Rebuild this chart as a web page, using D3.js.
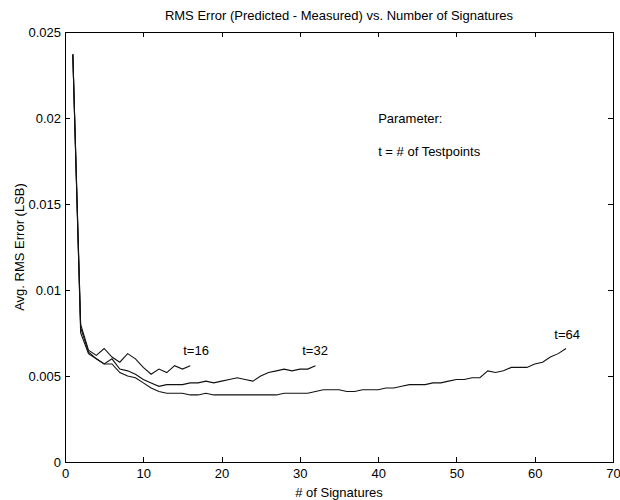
<!DOCTYPE html>
<html>
<head>
<meta charset="utf-8">
<script src="https://cdn.jsdelivr.net/npm/d3@7"></script>
<style>
  body { margin: 0; background: #fff; }
  svg text { font-family: "Liberation Sans", Arial, sans-serif; fill: #000; }
  .axis path, .axis line { stroke: #000; shape-rendering: crispEdges; }
</style>
</head>
<body>
<div id="chart"></div>
<script>
// values (avg RMS error, LSB) for 1..N signatures
var t16 = [0.0237, 0.0080, 0.0065, 0.0062, 0.0066, 0.0061, 0.0058, 0.0063, 0.0060, 0.0055,
           0.0051, 0.0054, 0.0052, 0.0056, 0.0054, 0.0056];
var t32 = [0.0237, 0.0078, 0.0064, 0.0060, 0.0057, 0.0060, 0.0054, 0.0053, 0.0051, 0.0048,
           0.0046, 0.0044, 0.0045, 0.0045, 0.0045, 0.0046, 0.0046, 0.0047, 0.0046, 0.0047,
           0.0048, 0.0049, 0.0048, 0.0047, 0.0050, 0.0052, 0.0053, 0.0054, 0.0053, 0.0054,
           0.0054, 0.0056];
var t64 = [0.0237, 0.0075, 0.0063, 0.0060, 0.0057, 0.0057, 0.0052, 0.0050, 0.0049, 0.0046,
           0.0043, 0.0041, 0.0040, 0.0040, 0.0040, 0.0039, 0.0039, 0.0040, 0.0039, 0.0039,
           0.0039, 0.0039, 0.0039, 0.0039, 0.0039, 0.0039, 0.0039, 0.0040, 0.0040, 0.0040,
           0.0040, 0.0041, 0.0042, 0.0042, 0.0042, 0.0041, 0.0041, 0.0042, 0.0042, 0.0042,
           0.0043, 0.0043, 0.0044, 0.0045, 0.0045, 0.0045, 0.0046, 0.0046, 0.0047, 0.0048,
           0.0048, 0.0049, 0.0049, 0.0053, 0.0052, 0.0053, 0.0055, 0.0055, 0.0055, 0.0057,
           0.0058, 0.0061, 0.0063, 0.0066];
var seriesNames = ["t=16", "t=32", "t=64"];
var xTicks = [0, 10, 20, 30, 40, 50, 60, 70];
var yTicks = [0, 0.005, 0.01, 0.015, 0.02, 0.025];
var yTickLabels = ["0", "0.005", "0.01", "0.015", "0.02", "0.025"];

var svg = d3.select("#chart").append("svg").attr("width", 620).attr("height", 500),
    margin = {top: 32, right: 7, bottom: 38, left: 65},
    width = 620 - margin.left - margin.right,
    height = 500 - margin.top - margin.bottom,
    g = svg.append("g").attr("transform", "translate(" + margin.left + "," + margin.top + ")");

var x = d3.scaleLinear().domain([0, 70]).range([0, width]);
var y = d3.scaleLinear().domain([0, 0.025]).range([height, 0]);

// axes, matlab style: inward ticks on all four sides
g.append("g").attr("class", "axis")
    .attr("transform", "translate(0," + height + ")")
    .call(d3.axisBottom(x).tickValues(xTicks).tickSizeInner(-5).tickSizeOuter(0).tickPadding(7))
    .call(function(a) { a.selectAll("text").attr("font-size", 13).attr("font-family", null); });

g.append("g").attr("class", "axis")
    .call(d3.axisLeft(y).tickValues(yTicks).tickSizeInner(-5).tickSizeOuter(0).tickPadding(4)
        .tickFormat(function(d, i) { return yTickLabels[i]; }))
    .call(function(a) { a.selectAll("text").attr("font-size", 13).attr("font-family", null); });

g.append("g").attr("class", "axis")
    .call(d3.axisTop(x).tickValues(xTicks).tickSizeInner(-5).tickSizeOuter(0).tickFormat(""));

g.append("g").attr("class", "axis")
    .attr("transform", "translate(" + width + ",0)")
    .call(d3.axisRight(y).tickValues(yTicks).tickSizeInner(-5).tickSizeOuter(0).tickFormat(""));

// curves
var line = d3.line()
    .x(function(d, i) { return x(i + 1); })
    .y(function(d) { return y(d); });

g.selectAll(".curve")
    .data([t16, t32, t64])
    .enter().append("path")
    .attr("class", "curve")
    .attr("fill", "none")
    .attr("stroke", "#111")
    .attr("stroke-width", 1.1)
    .attr("d", line);

// curve labels
var labelPos = [[15.1, 0.0062], [30.3, 0.0062], [62.5, 0.00715]];
g.selectAll(".lbl")
    .data(seriesNames)
    .enter().append("text")
    .attr("class", "lbl")
    .attr("x", function(d, i) { return x(labelPos[i][0]); })
    .attr("y", function(d, i) { return y(labelPos[i][1]); })
    .attr("font-size", 13)
    .text(function(d) { return d; });

// parameter note
g.append("text").attr("x", x(40)).attr("y", y(0.0197)).attr("font-size", 13).text("Parameter:");
g.append("text").attr("x", x(40)).attr("y", y(0.0178)).attr("font-size", 13).text("t = # of Testpoints");

// titles
svg.append("text")
    .attr("x", margin.left + width / 2)
    .attr("y", 20)
    .attr("text-anchor", "middle")
    .attr("font-size", 13)
    .text("RMS Error (Predicted - Measured) vs. Number of Signatures");

svg.append("text")
    .attr("x", margin.left + width / 2)
    .attr("y", 497)
    .attr("text-anchor", "middle")
    .attr("font-size", 13)
    .text("# of Signatures");

svg.append("text")
    .attr("transform", "translate(24," + (margin.top + height / 2) + ") rotate(-90)")
    .attr("text-anchor", "middle")
    .attr("font-size", 13)
    .text("Avg. RMS Error (LSB)");
</script>
</body>
</html>
